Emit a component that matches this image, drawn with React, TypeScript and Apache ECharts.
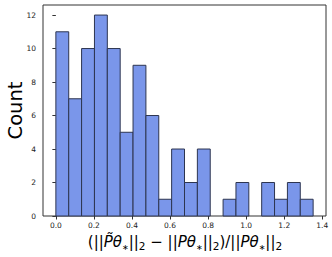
import React, { useEffect, useRef } from "react";
import * as echarts from "echarts";

const binStart = 0;
const binWidth = 0.0676;
const counts = [11, 7, 10, 12, 10, 5, 9, 6, 1, 4, 2, 4, 0, 1, 2, 0, 2, 1, 2, 1];
const xTicks = [0, 0.2, 0.4, 0.6, 0.8, 1.0, 1.2, 1.4];
const yTicks = [0, 2, 4, 6, 8, 10, 12];

export default function App() {
  const ref = useRef<HTMLDivElement>(null);
  useEffect(() => {
    document.body.style.margin = "0";
    if (!ref.current) return;
    const chart = echarts.init(ref.current, null, { renderer: "svg" });
    const data = counts.map((c, i) => [binStart + i * binWidth, binStart + (i + 1) * binWidth, c]);
    const span = counts.length * binWidth;
    const pad = span * 0.05;
    const font = "DejaVu Sans";
    chart.setOption({
      animation: false,
      grid: { left: 43, right: 6, top: 5, bottom: 41, show: true, borderColor: "#333", borderWidth: 1, backgroundColor: "transparent" },
      xAxis: {
        type: "value",
        min: binStart - pad,
        max: binStart + span + pad,
        splitLine: { show: false },
        axisLine: { show: false },
        axisTick: { show: true, length: 3.5, lineStyle: { color: "#333" }, customValues: xTicks },
        axisLabel: { customValues: xTicks, formatter: (v: number) => v.toFixed(1), fontSize: 7.5, color: "#222", fontFamily: font, margin: 5 },
      },
      yAxis: {
        type: "value",
        min: 0,
        max: 12.6,
        splitLine: { show: false },
        axisLine: { show: false },
        axisTick: { show: true, length: 3.5, lineStyle: { color: "#333" }, customValues: yTicks },
        axisLabel: { customValues: yTicks, fontSize: 7.5, color: "#222", fontFamily: font, margin: 7 },
      },
      series: [
        {
          type: "custom",
          data,
          encode: { x: [0, 1], y: 2 },
          renderItem: (params: any, api: any) => {
            const x0 = api.value(0);
            const x1 = api.value(1);
            const c = api.value(2);
            if (!c) return null;
            const p0 = api.coord([x0, c]);
            const p1 = api.coord([x1, 0]);
            return {
              type: "rect",
              shape: { x: p0[0], y: p0[1], width: p1[0] - p0[0], height: p1[1] - p0[1] },
              style: { fill: "#7a96ea", stroke: "#2d3550", lineWidth: 1 },
            };
          },
        },
      ],
      graphic: [
        {
          type: "text",
          x: 15,
          y: 110.5,
          rotation: Math.PI / 2,
          style: { text: "Count", fontSize: 19.5, fontFamily: font, fill: "#000", textAlign: "center", textVerticalAlign: "middle" },
        },
        {
          type: "text",
          x: 185,
          y: 242,
          style: {
            text: "{n|(||}{i|P\u0303θ}{s|∗}{n|||}{t|2}{n| − ||}{i|Pθ}{s|∗}{n|||}{t|2}{n|)/||}{i|Pθ}{s|∗}{n|||}{t|2}",
            textAlign: "center",
            textVerticalAlign: "middle",
            fill: "#000",
            rich: {
              n: { fontSize: 15, fontFamily: font, fill: "#000", lineHeight: 19 },
              i: { fontSize: 15, fontFamily: font, fontStyle: "italic", fill: "#000", lineHeight: 19 },
              s: { fontSize: 8, fontFamily: font, fill: "#000", verticalAlign: "bottom", lineHeight: 14 },
              t: { fontSize: 10.5, fontFamily: font, fill: "#000", verticalAlign: "bottom", lineHeight: 15 },
            },
          },
        },
      ],
    });
    return () => chart.dispose();
  }, []);
  return <div ref={ref} style={{ width: 332, height: 257 }} />;
}
